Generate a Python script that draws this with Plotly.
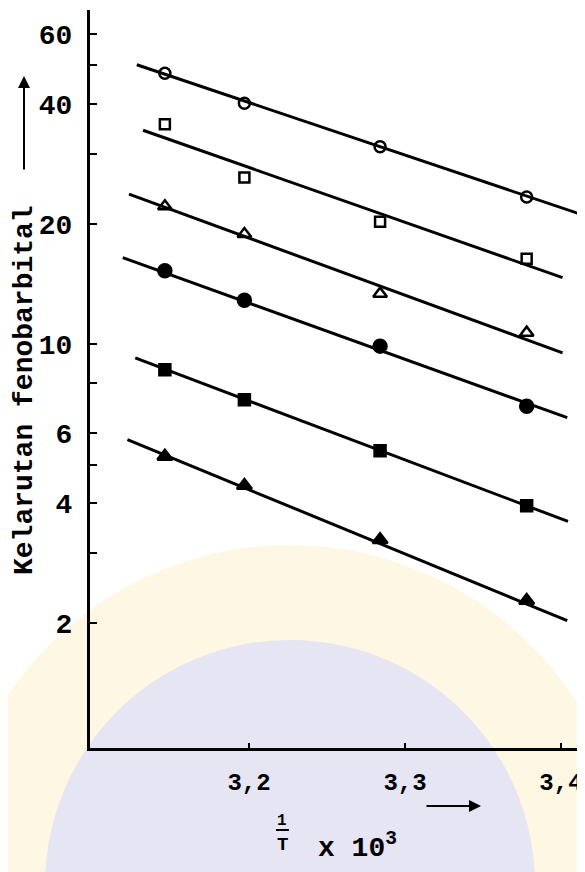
import plotly.graph_objects as go

# ---- data ----
x_vals = [3.146, 3.197, 3.284, 3.378]          # 1/T x 10^3

s1_open_circle = [47.8, 40.2, 31.3, 23.4]
s2_open_square = [35.6, 26.2, 20.3, 16.4]
s3_open_triangle = [22.2, 18.9, 13.4, 10.7]
s4_filled_circle = [15.3, 12.9, 9.9, 7.0]
s5_filled_square = [8.64, 7.27, 5.41, 3.94]
s6_filled_triangle = [5.24, 4.43, 3.24, 2.28]

# fitted straight lines (end points)
line_x_start = [3.128, 3.132, 3.123, 3.119, 3.127, 3.122]
line_y_start = [50.2, 34.4, 23.8, 16.5, 9.25, 5.77]
line_x_end = [3.411, 3.401, 3.401, 3.404, 3.4045, 3.404]
line_y_end = [21.3, 14.7, 9.52, 6.55, 3.60, 2.03]

y_tick_vals = [2, 3, 4, 5, 6, 8, 10, 20, 30, 40, 50, 60]
y_tick_text = ["2", "", "4", "", "6", "", "10", "20", "", "40", "", "60"]
x_tick_vals = [3.2, 3.3, 3.4]
x_tick_text = ["3,2", "3,3", "3,4"]

series = [
    (s1_open_circle, "circle-open", 11),
    (s2_open_square, "square-open", 10),
    (s3_open_triangle, "triangle-up-open", 12),
    (s4_filled_circle, "circle", 13),
    (s5_filled_square, "square", 11),
    (s6_filled_triangle, "triangle-up", 13),
]

# the page body has an 8px margin, so the figure is 8px smaller and all
# page positions are shifted by 8px
OFF = 8
W, H = 585 - OFF, 872 - OFF
L, R, T = 90 - OFF, 0, 10 - OFF
PLOT_BOTTOM = 748 - OFF
B = H - PLOT_BOTTOM
PW, PH = W - L - R, H - T - B


def px(xp):  # page pixel -> paper x
    return (xp - OFF - L) / PW


def py(yp):  # page pixel -> paper y
    return (PLOT_BOTTOM - (yp - OFF)) / PH


fig = go.Figure()

for i, (vals, sym, size) in enumerate(series):
    fig.add_trace(go.Scatter(
        x=[line_x_start[i], line_x_end[i]], y=[line_y_start[i], line_y_end[i]],
        mode="lines", line=dict(color="black", width=3), showlegend=False,
        hoverinfo="skip"))
    fig.add_trace(go.Scatter(
        x=x_vals, y=vals, mode="markers", showlegend=False,
        marker=dict(symbol=sym, size=size, color="black",
                    line=dict(color="black", width=2.5))))

font_mono = "Liberation Mono"

fig.update_layout(
    width=W, height=H,
    margin=dict(l=L, r=R, t=T, b=B, pad=0),
    paper_bgcolor="white", plot_bgcolor="rgba(0,0,0,0)",
    font=dict(family=font_mono, color="black"),
    xaxis=dict(range=[3.098, 3.4154], showgrid=False, zeroline=False,
               automargin=False,
               showline=True, linecolor="black", linewidth=3,
               tickvals=x_tick_vals, ticktext=x_tick_text,
               ticks="inside", ticklen=5, tickwidth=2, tickcolor="black",
               tickfont=dict(family=font_mono, size=24, color="black",
                             weight="bold"),
               ticklabelstandoff=10),
    yaxis=dict(type="log", range=[-0.0115, 1.838], showgrid=False,
               automargin=False,
               zeroline=False, showline=True, linecolor="black", linewidth=3,
               tickvals=y_tick_vals, ticktext=y_tick_text,
               ticks="inside", ticklen=7, tickwidth=2, tickcolor="black",
               tickfont=dict(family=font_mono, size=28, color="black",
                             weight="bold"),
               ticklabelstandoff=9),
)

# faint watermark-like background circles
shapes = [
    dict(type="circle", xref="paper", yref="paper", layer="below",
         x0=px(290 - 340), x1=px(290 + 340), y0=py(885 + 340), y1=py(885 - 340),
         fillcolor="rgba(252,242,210,0.6)", line=dict(width=0)),
    dict(type="circle", xref="paper", yref="paper", layer="below",
         x0=px(290 - 245), x1=px(290 + 245), y0=py(885 + 245), y1=py(885 - 245),
         fillcolor="rgba(222,224,248,0.8)", line=dict(width=0)),
    # fraction bar of 1/T
    dict(type="line", xref="paper", yref="paper",
         x0=px(276), x1=px(289), y0=py(830), y1=py(830),
         line=dict(color="black", width=2)),
]
fig.update_layout(shapes=shapes)

annotations = [
    # y-axis title
    dict(xref="paper", yref="paper", x=px(24), y=py(390), text="Kelarutan fenobarbital",
         showarrow=False, textangle=-90, xanchor="center", yanchor="middle",
         font=dict(family=font_mono, size=28, color="black", weight="bold")),
    # y-axis arrow
    dict(xref="paper", yref="paper", x=px(24), y=py(76), text="",
         showarrow=True, ax=0, ay=95, arrowhead=2, arrowsize=1.2,
         arrowwidth=2, arrowcolor="black"),
    # x-axis title
    dict(xref="paper", yref="paper", x=px(282), y=py(821), text="1",
         showarrow=False, xanchor="center", yanchor="middle",
         font=dict(family=font_mono, size=16, color="black", weight="bold")),
    dict(xref="paper", yref="paper", x=px(282), y=py(845), text="T",
         showarrow=False, xanchor="center", yanchor="middle",
         font=dict(family=font_mono, size=19, color="black", weight="bold")),
    dict(xref="paper", yref="paper", x=px(316), y=py(846), text="x 10<sup>3</sup>",
         showarrow=False, xanchor="left", yanchor="middle",
         font=dict(family=font_mono, size=28, color="black", weight="bold")),
    # x-axis arrow
    dict(xref="paper", yref="paper", x=px(481), y=py(806), text="",
         showarrow=True, ax=-56, ay=0, arrowhead=2, arrowsize=1.2,
         arrowwidth=2, arrowcolor="black"),
]
fig.update_layout(annotations=annotations)

fig.write_html("out.html")
